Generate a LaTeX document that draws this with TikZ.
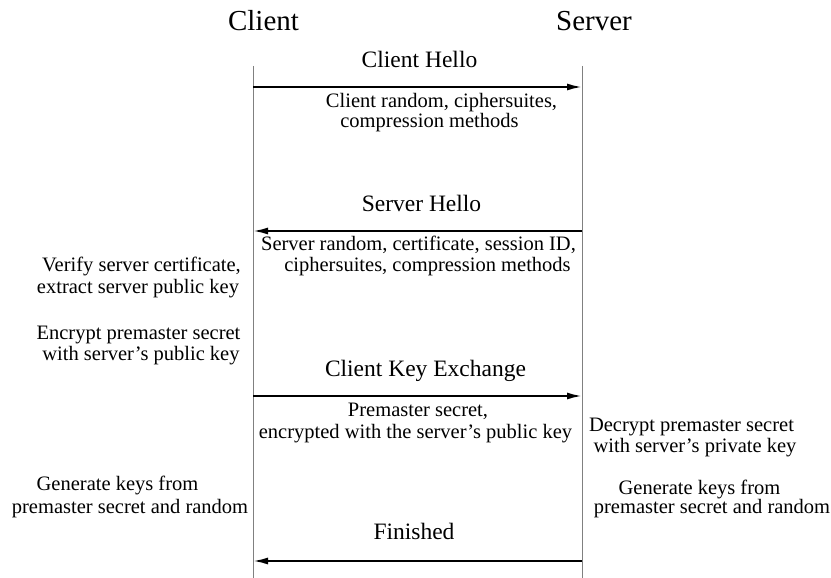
\documentclass[tikz,border=0pt]{standalone}
\usepackage{fontspec}
\setmainfont{Liberation Serif}
\usetikzlibrary{arrows.meta}
\begin{document}
\begin{tikzpicture}[x=1pt,y=-1pt,
  title/.style={font=\fontsize{29}{34}\selectfont, anchor=base, inner sep=0pt},
  msg/.style={font=\fontsize{23.5}{28}\selectfont, anchor=base, inner sep=0pt},
  note/.style={font=\fontsize{20.5}{24}\selectfont, anchor=base, inner sep=0pt},
  life/.style={draw=black!50, line width=0.9pt},
  arr/.style={line width=2pt, -{Latex[length=15pt,width=7pt]}}]
\useasboundingbox (0,0) rectangle (831,578);
% lifelines
\coordinate (ctop) at (253,66);
\coordinate (cbot) at (253,578);
\coordinate (stop) at (582,66);
\coordinate (sbot) at (582,578);
\draw[life] (ctop) -- (cbot);
\draw[life] (stop) -- (sbot);
% titles
\node[title] (client) at (263.5,31) {Client};
\node[title] (server) at (594,31) {Server};
% message 1
\node[msg] (m1) at (419.5,68) {Client Hello};
\coordinate (c1) at (253,87);
\coordinate (s1) at (582,87);
\draw[arr] (c1) -- (s1);
\node[note] (m1a) at (441.5,107) {Client random, ciphersuites,};
\node[note] (m1b) at (429.5,128) {compression methods};
% message 2
\node[msg] (m2) at (421.5,211) {Server Hello};
\coordinate (c2) at (253,231);
\coordinate (s2) at (582,231);
\draw[arr] (s2) -- (c2);
\node[note] (m2a) at (418.5,250) {Server random, certificate, session ID,};
\node[note] (m2b) at (427.5,271) {ciphersuites, compression methods};
% client actions
\node[note] (v1) at (141.5,271) {Verify server certificate,};
\node[note] (v2) at (138,293) {extract server public key};
\node[note] (e1) at (138.5,339) {Encrypt premaster secret};
\node[note] (e2) at (141,360) {with server’s public key};
% message 3
\node[msg] (m3) at (425.5,376) {Client Key Exchange};
\coordinate (c3) at (253,396);
\coordinate (s3) at (582,396);
\draw[arr] (c3) -- (s3);
\node[note] (m3a) at (418,416) {Premaster secret,};
\node[note] (m3b) at (415.5,438) {encrypted with the server’s public key};
% server actions
\node[note] (d1) at (691.5,431) {Decrypt premaster secret};
\node[note] (d2) at (695,452) {with server’s private key};
\node[note] (gl1) at (117.5,490) {Generate keys from};
\node[note] (gl2) at (130,513) {premaster secret and random};
\node[note] (gr1) at (699.5,494) {Generate keys from};
\node[note] (gr2) at (712,513) {premaster secret and random};
% message 4
\node[msg] (m4) at (414,539) {Finished};
\coordinate (c4) at (253,561);
\coordinate (s4) at (582,561);
\draw[arr] (s4) -- (c4);
\end{tikzpicture}
\end{document}
